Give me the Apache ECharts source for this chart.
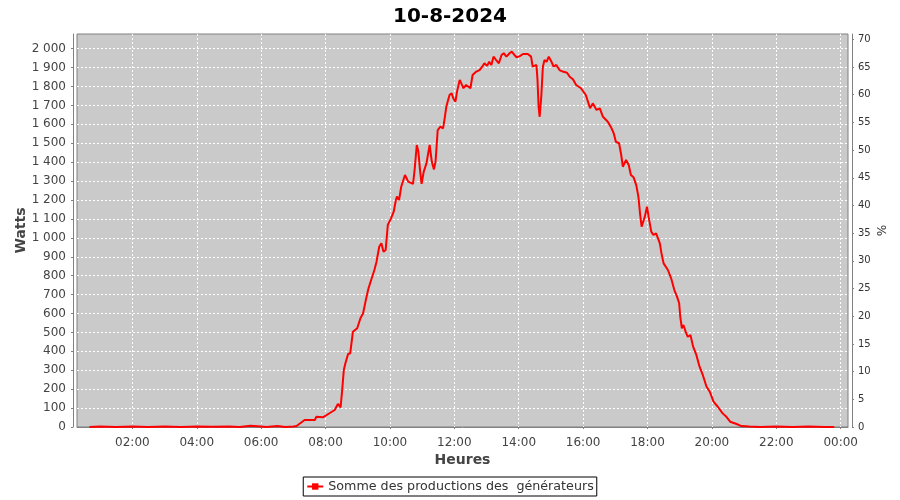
<!DOCTYPE html>
<html><head><meta charset="utf-8">
<script src="https://cdn.jsdelivr.net/npm/echarts@6/dist/echarts.min.js"></script>
<style>html,body{margin:0;padding:0;background:#fff}#c{width:900px;height:500px}</style>
</head><body><div id="c"></div>
<script>
const title = "10-8-2024";
const seriesName = "Somme des productions des  générateurs";
const xTickHours = [2,4,6,8,10,12,14,16,18,20,22,24];
const wattTicks = [0,100,200,300,400,500,600,700,800,900,1000,1100,1200,1300,1400,1500,1600,1700,1800,1900,2000];
const pctTicks = [0,5,10,15,20,25,30,35,40,45,50,55,60,65,70];
const times = ["00:40","01:00","01:30","02:00","02:30","03:00","03:30","04:00","04:30","05:00","05:20","05:40","06:00","06:10","06:30","06:45","07:00","07:06",
"07:21","07:40","07:43","07:55","08:08","08:17","08:23","08:28","08:31","08:34","08:37","08:42","08:46","08:51","08:59","09:05","09:10","09:15","09:20","09:25","09:31","09:35","09:40","09:44","09:48","09:52","09:56",
"10:02","10:07","10:11","10:13","10:17","10:21","10:28","10:34","10:43","10:46","10:50","10:53","10:56","10:59","11:03","11:08","11:14","11:18","11:22","11:25","11:29","11:34","11:39","11:42","11:45","11:51","11:55","11:58",
"12:02","12:05","12:10","12:13","12:17","12:22","12:25","12:30","12:34","12:41","12:47","12:52","12:56","13:01","13:05","13:09","13:13","13:18","13:23","13:28","13:32","13:37","13:43","13:47","13:52","13:56",
"14:02","14:08","14:17","14:23","14:26","14:29","14:33","14:35","14:37","14:39","14:42","14:45","14:48","14:52","14:56","15:01","15:05","15:10","15:16","15:22","15:25","15:30","15:35","15:41","15:47","15:56",
"16:05","16:09","16:13","16:18","16:25","16:31","16:37","16:46","16:53","16:57","17:01","17:07","17:11","17:14","17:17","17:20","17:25","17:29","17:34","17:39","17:43","17:46","17:49","17:52","17:55","17:59",
"18:02","18:07","18:11","18:16","18:23","18:26","18:30","18:38","18:44","18:50","18:55","18:59","19:01","19:04","19:07","19:11","19:15","19:20","19:25","19:31","19:37","19:43","19:50","19:56","19:59",
"20:03","20:11","20:20","20:27","20:34","20:46","20:55","21:10","21:30","22:00","22:30","23:00","23:30","23:48"];
const watts = [0,2,0,2,0,3,0,3,1,2,0,6,3,0,5,0,3,5,
37,37,54,51,74,90,122,104,196,301,337,386,390,504,522,575,601,671,733,777,830,874,953,971,927,936,1068,
1103,1138,1199,1218,1200,1270,1332,1297,1285,1359,1491,1455,1359,1285,1350,1394,1491,1403,1362,1403,1570,1588,1579,1632,1693,1755,1764,1738,
1720,1773,1835,1817,1791,1808,1817,1791,1861,1879,1887,1905,1923,1909,1931,1914,1958,1940,1923,1967,1976,1958,1976,1985,1967,1955,
1961,1972,1972,1958,1905,1896,1914,1835,1693,1640,1746,1905,1940,1931,1958,1931,1905,1914,1887,1879,1870,1873,1852,1838,1808,1791,
1755,1720,1685,1711,1676,1685,1640,1614,1579,1553,1508,1500,1438,1376,1385,1412,1385,1332,1320,1279,1218,1130,1059,1050,1112,1165,
1112,1033,1015,1024,971,918,865,830,786,724,689,654,583,522,539,504,477,486,425,381,319,275,213,187,178,
134,107,72,54,28,16,5,2,0,3,0,2,0,0];

const toH = s => { const p = s.split(":"); return +p[0] + (+p[1])/60; };
const data = times.map((t,i) => [toH(t), watts[i]]);
const fmtW = v => v >= 1000 ? Math.floor(v/1000) + " " + String(v%1000).padStart(3,"0") : String(v);
const fmtH = v => String(Math.round(v)%24).padStart(2,"0") + ":00";
const labelFont = {fontFamily:"DejaVu Sans", fontSize:12, color:"#444"};
const axisLine = {show:true, lineStyle:{color:"#808080", width:1}};
const split = {show:true, lineStyle:{color:"#ffffff", type:[2,2], width:1}};

const chart = echarts.init(document.getElementById("c"), null, {renderer:"canvas"});
chart.setOption({
  animation:false,
  backgroundColor:"#ffffff",
  title:{text:title, left:"center", top:2, textStyle:{fontFamily:"DejaVu Sans", fontWeight:"bold", fontSize:20, color:"#000"}},
  legend:{data:[seriesName], left:"center", top:477, padding:[3,3,3,3], borderColor:"#000", borderWidth:1, borderRadius:0, backgroundColor:"#fff",
    itemWidth:16, itemHeight:8, textStyle:{fontFamily:"DejaVu Sans", fontSize:12.7, color:"#333"}},
  grid:{left:77, right:52, top:34, bottom:73, show:true, backgroundColor:"#cacaca", borderColor:"#808080", borderWidth:1, containLabel:false},
  xAxis:{type:"value", min:0.28, max:24.227, offset:4,
    name:"Heures", nameLocation:"middle", nameGap:22, nameMoveOverlap:false, nameTextStyle:{fontFamily:"DejaVu Sans", fontWeight:"bold", fontSize:14, color:"#444", verticalAlign:"top"},
    axisLine:axisLine, axisTick:{show:true, length:2, inside:false, customValues:xTickHours, lineStyle:{color:"#808080"}},
    axisLabel:Object.assign({customValues:xTickHours, formatter:fmtH, margin:6}, labelFont),
    splitLine:split},
  yAxis:[
    {type:"value", min:0, max:2077.7, offset:4, position:"left",
     name:"Watts", nameLocation:"middle", nameGap:52, nameRotate:90, nameMoveOverlap:false,
     nameTextStyle:{fontFamily:"DejaVu Sans", fontWeight:"bold", fontSize:14, color:"#444", verticalAlign:"middle"},
     axisLine:axisLine, axisTick:{show:true, length:2, customValues:wattTicks, lineStyle:{color:"#808080"}},
     axisLabel:Object.assign({customValues:wattTicks, formatter:fmtW, margin:7}, labelFont),
     splitLine:split},
    {type:"value", min:0, max:70.96, offset:4, position:"right",
     name:"%", nameLocation:"middle", nameGap:28, nameRotate:-90, nameMoveOverlap:false,
     nameTextStyle:{fontFamily:"DejaVu Sans", fontSize:12, color:"#333", verticalAlign:"middle"},
     axisLine:axisLine, axisTick:{show:true, length:2, customValues:pctTicks, lineStyle:{color:"#808080"}},
     axisLabel:{customValues:pctTicks, margin:6, fontFamily:"DejaVu Sans", fontSize:10, color:"#333"},
     splitLine:{show:false}}
  ],
  series:[{name:seriesName, type:"line", data:data, yAxisIndex:0, symbol:"rect", symbolSize:4, showSymbol:false,
    lineStyle:{color:"#ff0000", width:2}, itemStyle:{color:"#ff0000"}, clip:true}]
});
</script></body></html>
